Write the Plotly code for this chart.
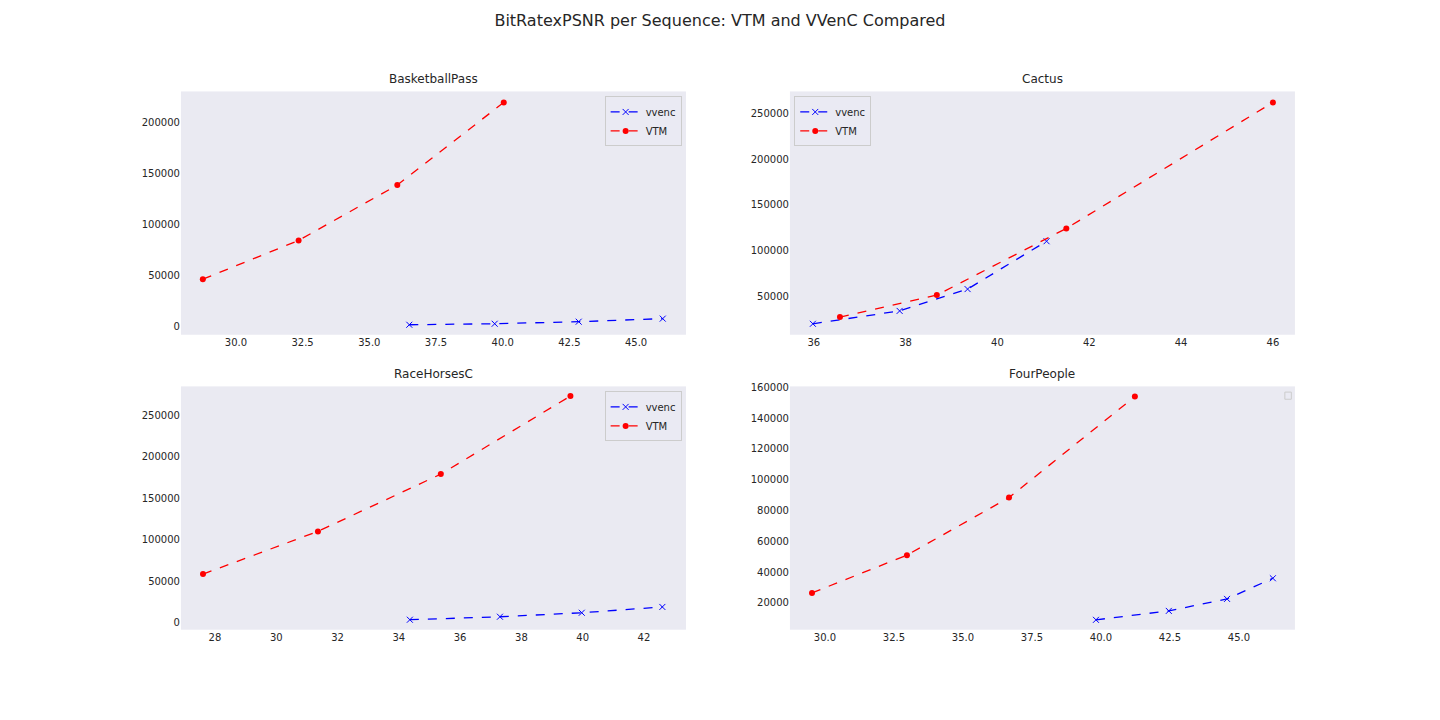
import plotly.graph_objects as go

# per-sequence data: (psnr, bitrate)
bp_vtm_psnr = [28.76, 32.35, 36.05, 40.04]
bp_vtm_rate = [46700, 84700, 139000, 220000]
bp_vvenc_psnr = [36.5, 39.7, 42.85, 46.0]
bp_vvenc_rate = [2000, 3000, 5000, 8000]

ca_vtm_psnr = [36.57, 38.68, 41.5, 46.0]
ca_vtm_rate = [27000, 51000, 124000, 262000]
ca_vvenc_psnr = [35.98, 37.87, 39.35, 41.07]
ca_vvenc_rate = [19600, 33700, 57600, 110000]

rh_vtm_psnr = [27.61, 31.36, 35.37, 39.6]
rh_vtm_rate = [58600, 110000, 179000, 273000]
rh_vvenc_psnr = [34.36, 37.3, 39.97, 42.6]
rh_vvenc_rate = [3600, 7200, 12000, 19000]

fp_vtm_psnr = [29.53, 32.97, 36.67, 41.23]
fp_vtm_rate = [26500, 51000, 88400, 154000]
fp_vvenc_psnr = [39.82, 42.46, 44.57, 46.23]
fp_vvenc_rate = [9000, 14800, 22600, 36000]

titles = ["BasketballPass", "Cactus", "RaceHorsesC", "FourPeople"]

fig = go.Figure()

panels = [
    (bp_vvenc_psnr, bp_vvenc_rate, bp_vtm_psnr, bp_vtm_rate, "legend"),
    (ca_vvenc_psnr, ca_vvenc_rate, ca_vtm_psnr, ca_vtm_rate, "legend2"),
    (rh_vvenc_psnr, rh_vvenc_rate, rh_vtm_psnr, rh_vtm_rate, "legend3"),
    (fp_vvenc_psnr, fp_vvenc_rate, fp_vtm_psnr, fp_vtm_rate, None),
]
for i, (vx, vy, tx, ty, leg) in enumerate(panels):
    ax = "" if i == 0 else str(i + 1)
    show = leg is not None
    fig.add_trace(go.Scatter(
        x=vx, y=vy, mode="lines+markers", name="vvenc",
        line=dict(color="blue", dash="dash", width=1.3),
        marker=dict(symbol="x-thin", size=6, line=dict(color="blue", width=1)),
        xaxis="x" + ax, yaxis="y" + ax, showlegend=show, legend=leg or "legend",
    ))
    fig.add_trace(go.Scatter(
        x=tx, y=ty, mode="lines+markers", name="VTM",
        line=dict(color="red", dash="dash", width=1.3),
        marker=dict(symbol="circle", size=6, color="red"),
        xaxis="x" + ax, yaxis="y" + ax, showlegend=show, legend=leg or "legend",
    ))

# page is offset ~8px right/down in the browser, compensate
xdom = [[0.1201, 0.4708], [0.5430, 0.8937]]
ydom = [[0.5500, 0.8903], [0.1375, 0.4778]]
xranges = [[27.94, 46.87], [35.48, 46.48], [26.89, 43.37], [28.73, 47.03]]
yranges = [[-7800, 230800], [7600, 274000], [-8400, 284700], [2600, 160600]]
xticks = [
    [30, 32.5, 35, 37.5, 40, 42.5, 45],
    [36, 38, 40, 42, 44, 46],
    [28, 30, 32, 34, 36, 38, 40, 42],
    [30, 32.5, 35, 37.5, 40, 42.5, 45],
]
xfmt = [".1f", "d", "d", ".1f"]
ydt = [50000, 50000, 50000, 20000]

layout = {}
annotations = []
for i in range(4):
    ax = "" if i == 0 else str(i + 1)
    r, c = divmod(i, 2)
    layout["xaxis" + ax] = dict(
        domain=xdom[c], anchor="y" + ax, range=xranges[i], tickvals=xticks[i],
        tickformat=xfmt[i], showgrid=False, zeroline=False, ticks="",
        tickfont=dict(size=10, color="#262626"),
    )
    layout["yaxis" + ax] = dict(
        domain=ydom[r], anchor="x" + ax, range=yranges[i], dtick=ydt[i],
        tickformat="d", showgrid=False, zeroline=False, ticks="",
        tickfont=dict(size=10, color="#262626"),
    )
    annotations.append(dict(
        text=titles[i], x=sum(xdom[c]) / 2, y=ydom[r][1], xref="paper", yref="paper",
        xanchor="center", yanchor="bottom", yshift=3, showarrow=False,
        font=dict(size=12, color="#262626"),
    ))

legstyle = dict(bgcolor="rgba(234,234,242,0.8)", bordercolor="#cccccc", borderwidth=1,
                font=dict(size=10, color="#262626"), tracegroupgap=0, itemwidth=30)
fig.update_layout(
    **layout,
    annotations=annotations,
    title=dict(text="BitRatexPSNR per Sequence: VTM and VVenC Compared", x=0.4944, y=0.99,
               xanchor="center", yanchor="top", font=dict(size=16, color="#262626")),
    legend=dict(x=xdom[0][1] - 0.003, y=ydom[0][1] - 0.007, xanchor="right", yanchor="top", **legstyle),
    legend2=dict(x=xdom[1][0] + 0.003, y=ydom[0][1] - 0.007, xanchor="left", yanchor="top", **legstyle),
    legend3=dict(x=xdom[0][1] - 0.003, y=ydom[1][1] - 0.007, xanchor="right", yanchor="top", **legstyle),
    shapes=[dict(type="rect", xref="paper", yref="paper", x0=xdom[1][1] - 0.007, x1=xdom[1][1] - 0.0025,
                 y0=ydom[1][1] - 0.018, y1=ydom[1][1] - 0.008, line=dict(color="#cccccc", width=1),
                 fillcolor="rgba(234,234,242,0.8)")],
    plot_bgcolor="#eaeaf2",
    paper_bgcolor="white",
    font=dict(family="DejaVu Sans", color="#262626"),
    width=1440, height=720,
    margin=dict(l=0, r=0, t=0, b=0),
)

fig.write_html("out.html")
